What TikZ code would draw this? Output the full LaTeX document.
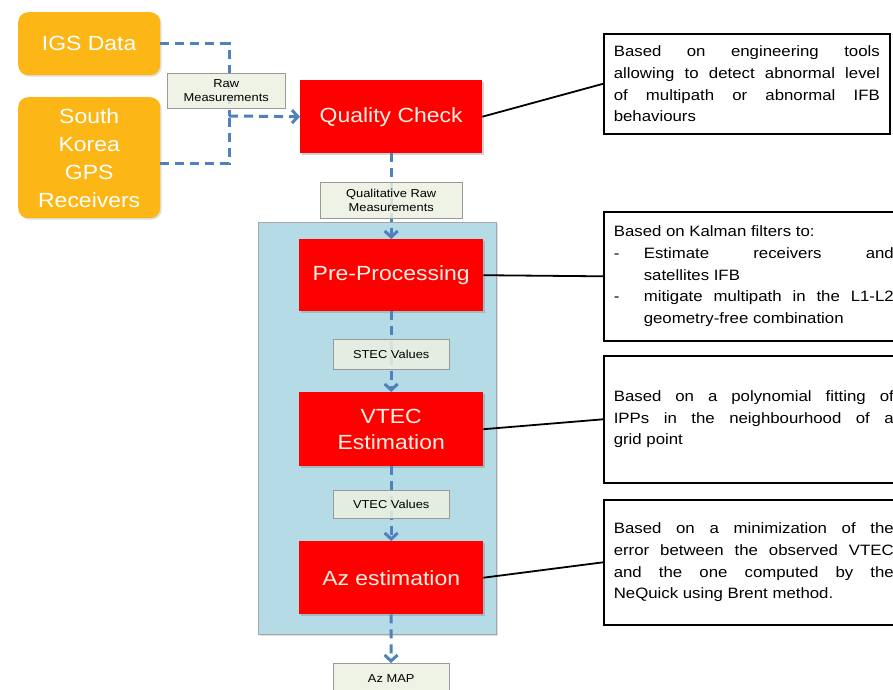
\documentclass[tikz,border=0pt]{standalone}
\usepackage{fontspec}
\setmainfont[FakeStretch=1.12]{Liberation Sans}
\usetikzlibrary{arrows.meta,shadows}

\definecolor{igsorange}{RGB}{252,183,22}
\definecolor{stagered}{RGB}{255,0,0}
\definecolor{stagetext}{RGB}{255,240,228}
\definecolor{panelblue}{RGB}{180,219,230}
\definecolor{lblgreen}{RGB}{236,241,226}
\definecolor{flowblue}{RGB}{79,129,189}

\tikzset{
  source/.style={fill=igsorange, rounded corners=10pt, text=white, align=center,
    font=\fontsize{20.5}{28}\selectfont, anchor=north west, inner sep=0pt,
    drop shadow={shadow xshift=1.5pt, shadow yshift=-1.5pt, opacity=.25}},
  stage/.style={fill=stagered, text=stagetext, align=center,
    font=\fontsize{20.5}{26}\selectfont, anchor=north west, inner sep=0pt,
    drop shadow={shadow xshift=2pt, shadow yshift=-2pt, opacity=.35}},
  lbl/.style={draw=gray!80, fill=lblgreen, fill opacity=.85, text opacity=1,
    align=center, font=\fontsize{11.5}{14}\selectfont, anchor=north west, inner sep=0pt},
  note/.style={draw=black, line width=1.6pt, fill=white, align=justify,
    font=\fontsize{15}{21.7}\selectfont, anchor=north west, inner xsep=10pt, inner ysep=0pt},
  flow/.style={draw=flowblue, line width=3pt, dash pattern=on 9pt off 6pt},
  feed/.style={flow, -{Straight Barb[length=6pt,width=13pt]}},
  tie/.style={draw=black, line width=1.8pt}
}

\begin{document}
\begin{tikzpicture}[x=1pt, y=-1pt]
  \useasboundingbox (0,0) rectangle (893,689);
  \clip (0,0) rectangle (893,689);

  % processing panel
  \node[draw=gray!70, fill=panelblue, minimum width=238, minimum height=412,
    anchor=north west, inner sep=0pt,
    drop shadow={shadow xshift=2pt, shadow yshift=-2pt, opacity=.25}] (panel) at (258,222) {};

  % data sources
  \node[source, minimum width=142, minimum height=63] (igs) at (18,12) {IGS Data};
  \node[source, minimum width=142, minimum height=121] (korea) at (18,97) {South\\Korea\\GPS\\Receivers};

  % processing stages
  \node[stage, minimum width=182, minimum height=73] (qc) at (300,80) {Quality Check};
  \node[stage, minimum width=184, minimum height=72] (prep) at (299,239) {Pre-Processing};
  \node[stage, minimum width=184, minimum height=74] (vtec) at (299,392) {VTEC\\Estimation};
  \node[stage, minimum width=184, minimum height=73] (az) at (299,541) {Az estimation};

  % notes
  \node[note, text width=266, minimum height=100] (note1) at (603,33)
    {Based on engineering tools\linebreak allowing to detect abnormal level\linebreak
     of multipath or abnormal IFB\linebreak behaviours};
  \node[note, text width=280, minimum height=129] (note2) at (603,211)
    {Based on Kalman filters to:\\
     \makebox[30pt][l]{-}Estimate receivers and\linebreak
     \hspace*{30pt}satellites IFB\\
     \makebox[30pt][l]{-}mitigate multipath in the L1-L2\linebreak
     \hspace*{30pt}geometry-free combination};
  \node[note, text width=280, minimum height=127] (note3) at (603,355)
    {Based on a polynomial fitting of\linebreak IPPs in the neighbourhood of a\linebreak grid point};
  \node[note, text width=280, minimum height=125] (note4) at (603,499)
    {Based on a minimization of the\linebreak error between the observed VTEC\linebreak
     and the one computed by the\linebreak NeQuick using Brent method.};

  % data flow
  \coordinate (join) at (229,116);
  \draw[flow] (igs.east) -| (join);
  \draw[flow] ([yshift=-6pt]korea.east) -| (join);
  \draw[feed] (join) -- (qc.west);
  \draw[feed] (qc.south) -- (prep.north);
  \draw[feed] (prep.south) -- (vtec.north);
  \draw[feed] (vtec.south) -- (az.north);
  \coordinate (mapin) at (391,663);
  \draw[feed] (az.south) -- (mapin);

  % flow labels
  \node[lbl, minimum width=118, minimum height=35] (rawlbl) at (167,73) {Raw\\Measurements};
  \node[lbl, minimum width=142, minimum height=36] (qrlbl) at (320,182) {Qualitative Raw\\Measurements};
  \node[lbl, minimum width=116, minimum height=30] (stec) at (333,339) {STEC Values};
  \node[lbl, minimum width=116, minimum height=28] (vteclbl) at (333,490) {VTEC Values};
  \node[lbl, minimum width=116, minimum height=30] (azmap) at (333,663) {Az MAP};

  % ties to notes
  \draw[tie] (qc.east) -- (note1.west);
  \draw[tie] (prep.east) -- (note2.west);
  \draw[tie] (vtec.east) -- (note3.west);
  \draw[tie] (az.east) -- (note4.west);
\end{tikzpicture}
\end{document}
